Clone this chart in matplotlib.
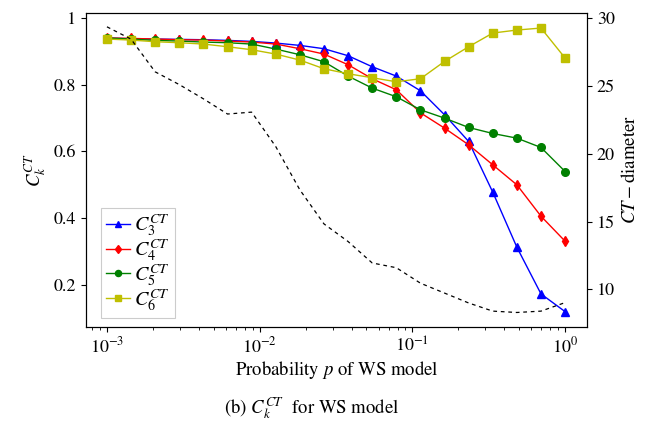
import numpy as np
import matplotlib
matplotlib.use("Agg")
import matplotlib.pyplot as plt

plt.rcParams['font.family'] = ['STIXGeneral', 'DejaVu Sans']
plt.rcParams['mathtext.fontset'] = 'stix'

p = np.logspace(-3, 0, 20)

c3 = [0.940, 0.938, 0.937, 0.936, 0.935, 0.933, 0.930, 0.925, 0.918, 0.908,
      0.887, 0.854, 0.826, 0.782, 0.710, 0.630, 0.478, 0.313, 0.173, 0.120]
c4 = [0.940, 0.939, 0.937, 0.935, 0.934, 0.931, 0.928, 0.922, 0.908, 0.892,
      0.860, 0.818, 0.785, 0.716, 0.670, 0.620, 0.560, 0.500, 0.406, 0.331]
c5 = [0.940, 0.937, 0.933, 0.931, 0.928, 0.926, 0.922, 0.907, 0.890, 0.869,
      0.826, 0.790, 0.764, 0.725, 0.700, 0.672, 0.654, 0.640, 0.612, 0.540]
c6 = [0.937, 0.934, 0.929, 0.926, 0.922, 0.914, 0.905, 0.892, 0.874, 0.848,
      0.833, 0.821, 0.809, 0.818, 0.870, 0.914, 0.955, 0.964, 0.970, 0.880]
diameter = [29.36, 28.45, 26.04, 25.1, 24.05, 22.93, 23.07, 20.53, 17.34, 14.83,
            13.53, 11.95, 11.6, 10.46, 9.73, 9.0, 8.4, 8.3, 8.4, 9.03]

labels = [r'$C_3^{CT}$', r'$C_4^{CT}$', r'$C_5^{CT}$', r'$C_6^{CT}$']

fig = plt.figure(figsize=(6.56, 4.26), dpi=100)
ax = fig.add_axes([0.131, 0.2324, 0.764, 0.7378])
ax2 = ax.twinx()

ms = 5.5
ax.plot(p, c3, '-', color='b', marker='^', ms=ms, lw=1, label=labels[0], zorder=3)
ax.plot(p, c4, '-', color='r', marker='d', ms=ms, lw=1, label=labels[1], zorder=3)
ax.plot(p, c5, '-', color='g', marker='o', ms=ms, lw=1, label=labels[2], zorder=3)
ax.plot(p, c6, '-', color='y', marker='s', ms=ms, lw=1, label=labels[3], zorder=3)

ax2.plot(p, diameter, '--', color='k', lw=0.9, dashes=(3, 3))

ax.set_xscale('log')
ax.set_xlim(10 ** -3.1375, 10 ** 0.144)
ax.set_ylim(0.074, 1.016)
ax2.set_ylim(7.23, 30.4)

ax.set_yticks([0.2, 0.4, 0.6, 0.8, 1.0])
ax.set_yticklabels(['0.2', '0.4', '0.6', '0.8', '1'])
ax2.set_yticks([10, 15, 20, 25, 30])

fs = 13
ax.tick_params(labelsize=fs)
ax2.tick_params(labelsize=fs)
ax.set_xlabel(r'Probability $p$ of WS model', fontsize=fs + 0.5, labelpad=2)
ax.set_ylabel(r'$C_k^{CT}$', fontsize=fs + 0.5, labelpad=4)
ax2.set_ylabel(r'$CT-$diameter', fontsize=fs + 0.5, labelpad=4)

leg = ax.legend(loc='lower left', bbox_to_anchor=(0.03, 0.03), borderaxespad=0,
                fontsize=14.5, handlelength=1.2, labelspacing=-0.05,
                handletextpad=0.2, borderpad=0.25, fancybox=False,
                markerscale=0.8, framealpha=1, edgecolor='#cccccc')
leg.get_frame().set_linewidth(0.8)

fig.text(312 / 656, 1 - 408 / 426, r'(b) $C_k^{CT}$  for WS model', fontsize=fs + 0.5,
         ha='center', va='center')

fig.savefig('out.png', dpi=100)
